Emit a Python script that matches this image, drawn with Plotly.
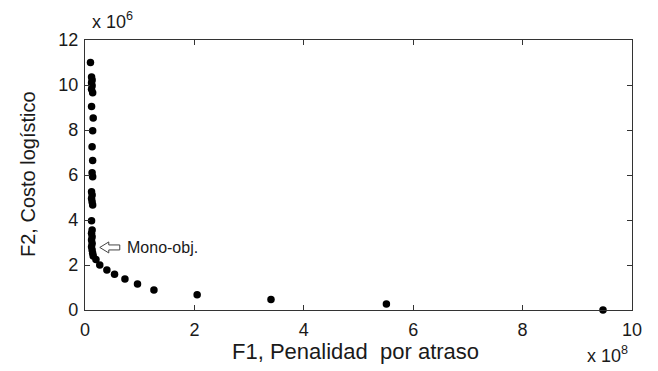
import plotly.graph_objects as go

# Data (x in units of 1e8, y in units of 1e6)
f1_penalidad = [0.10, 0.12, 0.13, 0.12, 0.13, 0.12, 0.14, 0.12, 0.15, 0.14, 0.13, 0.14, 0.13, 0.14,
                0.12, 0.13, 0.12, 0.13, 0.14, 0.12, 0.13, 0.12, 0.13, 0.12, 0.13, 0.12, 0.13, 0.14, 0.15,
                0.20, 0.27, 0.40, 0.54, 0.73, 0.96, 1.26, 2.05, 3.40, 5.51, 9.47]
f2_costo = [11.0, 10.35, 10.22, 10.1, 9.97, 9.81, 9.66, 9.04, 8.53, 7.97, 7.26, 6.64, 6.10, 5.92,
            5.26, 5.11, 4.96, 4.81, 4.67, 3.97, 3.56, 3.41, 3.26, 3.11, 2.96, 2.81, 2.67, 2.52, 2.40,
            2.25, 2.00, 1.78, 1.59, 1.38, 1.16, 0.89, 0.68, 0.47, 0.27, 0.0]
x_tick_vals = [0, 2, 4, 6, 8, 10]
y_tick_vals = [0, 2, 4, 6, 8, 10, 12]
mono_obj = (0.27, 2.78)

X_SCALE, Y_SCALE = 1e8, 1e6
xs = [v * X_SCALE for v in f1_penalidad]
ys = [v * Y_SCALE for v in f2_costo]

FONT = "Liberation Sans, Arial, sans-serif"
INK = "#1a1a1a"

# page offset (browser body margin)
OFF = 8
W, H = 658 - OFF, 371 - OFF
ml, mr, mt, mb = 85 - OFF, 26, 40 - OFF, 61
pw, ph = W - ml - mr, H - mt - mb

fig = go.Figure()
fig.add_trace(go.Scatter(x=xs, y=ys, mode="markers",
                         marker=dict(color="black", size=7.5), showlegend=False,
                         cliponaxis=False))

axis_common = dict(showline=True, linecolor="#333", linewidth=1.3, mirror="ticks",
                   ticks="inside", ticklen=5, tickcolor="#333", showgrid=False,
                   zeroline=False, tickfont=dict(family=FONT, size=18, color=INK))

fig.update_xaxes(range=[0, 10 * X_SCALE], tickvals=[v * X_SCALE for v in x_tick_vals],
                 ticktext=[str(v) for v in x_tick_vals], ticklabelstandoff=3, **axis_common)
fig.update_yaxes(range=[0, 12 * Y_SCALE], tickvals=[v * Y_SCALE for v in y_tick_vals],
                 ticktext=[str(v) for v in y_tick_vals], ticklabelstandoff=2, **axis_common)

# hollow arrow (pixel sizes converted to data units)
px_x = 10 * X_SCALE / pw
px_y = 12 * Y_SCALE / ph
tx, ty = mono_obj[0] * X_SCALE, mono_obj[1] * Y_SCALE
L, HL, BH, HH = 20, 9, 2.5, 5.5
pts = [(tx, ty), (tx + HL * px_x, ty + HH * px_y), (tx + HL * px_x, ty + BH * px_y),
       (tx + L * px_x, ty + BH * px_y), (tx + L * px_x, ty - BH * px_y),
       (tx + HL * px_x, ty - BH * px_y), (tx + HL * px_x, ty - HH * px_y)]
path = "M " + " L ".join(f"{a},{b}" for a, b in pts) + " Z"
fig.add_shape(type="path", path=path, xref="x", yref="y",
              line=dict(color="#444", width=1), fillcolor="white")
fig.add_annotation(x=tx + (L + 5) * px_x, y=ty, xref="x", yref="y", text="Mono-obj.",
                   showarrow=False, xanchor="left", yanchor="middle",
                   font=dict(family=FONT, size=16, color=INK))


def page_ann(px, py, text, size, angle=0):
    fig.add_annotation(x=(px - OFF - ml) / pw, y=(H - mb - (py - OFF)) / ph,
                       xref="paper", yref="paper", text=text, showarrow=False,
                       xanchor="center", yanchor="middle", textangle=angle,
                       font=dict(family=FONT, size=size, color=INK))


page_ann(355, 351, "F1, Penalidad  por atraso", 22)
page_ann(28, 174, "F2, Costo logístico", 20, -90)
page_ann(607, 354, "x 10<sup>8</sup>", 18)
page_ann(112, 21, "x 10<sup>6</sup>", 18)

fig.update_layout(width=W, height=H, margin=dict(l=ml, r=mr, t=mt, b=mb),
                  plot_bgcolor="white", paper_bgcolor="white")
fig.write_html("out.html")
